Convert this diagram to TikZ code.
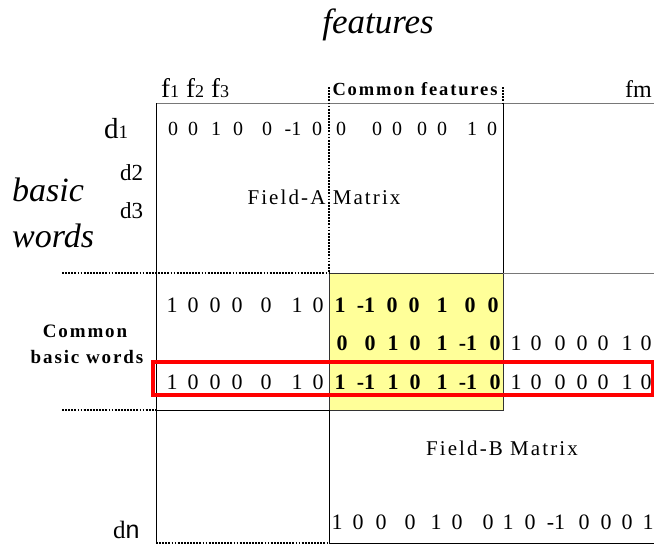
\documentclass[tikz,border=0pt]{standalone}
\usepackage{fontspec}
\setmainfont{Liberation Serif}
\setsansfont{Liberation Sans}
\newfontfamily\trackfont[LetterSpace=10]{Liberation Serif}
\usetikzlibrary{positioning}
\definecolor{cellyellow}{RGB}{255,255,153}
\definecolor{rulegray}{RGB}{120,120,120}
\newcommand{\sz}[1]{\fontsize{#1}{#1}\selectfont}

\begin{document}
\begin{tikzpicture}[x=1pt,y=-1pt,
  num/.style={anchor=base,inner sep=0pt,font=\sz{22}},
  bnum/.style={anchor=base,inner sep=0pt,font=\sz{22}\bfseries},
  lbl/.style={anchor=base,inner sep=0pt},
  dotline/.style={line width=2.4pt,dash pattern=on 1.8pt off 1.3pt},
  redbox/.style={draw=red,line width=3.4pt}]
\useasboundingbox (0,0) rectangle (654,546);

% grid corners
\coordinate (tl) at (156,103);
\coordinate (tr) at (654,103);
\coordinate (ca) at (329,103);
\coordinate (cb) at (503,103);
\coordinate (ml) at (156,410);
\coordinate (bl) at (156,543);
\coordinate (bm) at (329,543);
\coordinate (br) at (654,543);

% common block
\filldraw[fill=cellyellow,draw=black!80,line width=0.8pt] (329,273) rectangle (503,410);

% frame
\draw[rulegray,line width=1pt] (tl) -- (tr);
\draw[line width=1pt] (tl) -- (bl);
\draw[line width=1pt] (cb) -- (503,273);
\draw[rulegray,line width=1pt] (503,273) -- (654,273);
\draw[line width=1pt] (ml) -- (329,410);
\draw[line width=1pt] (329,410) -- (bm) -- (br);

% dotted borders
\draw[dotline] (329,87) -- (329,273);
\draw[dotline] (503,87) -- (cb);
\draw[dotline] (62,273) -- (329,273);
\draw[dotline] (62,410) -- (ml);
\draw[dotline] (bl) -- (bm);

% highlighted row
\draw[redbox] (153,362) rectangle (653,395);

% headings
\node[lbl,font=\sz{35}\itshape] (feat) at (378,33) {features};
\node[lbl,anchor=base west,font=\sz{34}\itshape] (basic) at (12,201) {basic};
\node[lbl,anchor=base west,font=\sz{34}\itshape] (words) at (12,247) {words};

% column labels
\node[lbl,anchor=base west,font=\sz{27}] (f1) at (161,97) {f{\sz{18}1}};
\node[lbl,anchor=base west,font=\sz{27}] (f2) at (186,97) {f{\sz{18}2}};
\node[lbl,anchor=base west,font=\sz{27}] (f3) at (211,97) {f{\sz{18}3}};
\node[lbl,font=\sz{18.5}\trackfont\bfseries] (cfeat) at (415,95) {Common features};
\node[lbl,anchor=base east,font=\sz{24}] (fm) at (652,97) {fm};

% row labels
\node[lbl,anchor=base west,font=\sz{29}] (d1) at (104,138) {d{\sz{19}1}};
\node[lbl,anchor=base west,font=\sz{23}] (d2) at (120,180) {d2};
\node[lbl,anchor=base west,font=\sz{23}] (d3) at (120,218) {d3};
\node[lbl,anchor=base west,font=\sz{25}] (dn) at (113,538) {d{\sffamily n}};
\node[lbl,font=\sz{19}\trackfont\bfseries] (cbw1) at (85,337) {Common};
\node[lbl,font=\sz{19}\trackfont\bfseries] (cbw2) at (87,363) {basic words};

% block titles
\node[lbl,font=\sz{21}\trackfont] (fa) at (324,204) {Field-A Matrix};
\node[lbl,font=\sz{21}\trackfont] (fb) at (502,455) {Field-B Matrix};

% matrix entries
\foreach \x/\v [count=\i] in {173/0,193/0,216/1,238/0,267/0,293/-1,317/0}
  \node[num,font=\sz{20}] (ra\i) at (\x,135) {\v};
\foreach \x/\v [count=\i] in {341/0,377/0,397/0,422/0,442/0,472/1,492/0}
  \node[num,font=\sz{20}] (rb\i) at (\x,135) {\v};
\foreach \y/\n in {312/p,389/r}
  \foreach \x/\v [count=\i] in {172/1,193/0,215/0,237/0,266/0,297/1,318/0}
    \node[num] (\n l\i) at (\x,\y) {\v};
\foreach \x/\v [count=\i] in {340/1,366/-1,392/0,414/0,442/1,470/0,493/0}
  \node[bnum] (pc\i) at (\x,312) {\v};
\foreach \x/\v [count=\i] in {342/0,370/0,393/1,415/0,442/1,468/-1,495/0}
  \node[bnum] (qc\i) at (\x,350) {\v};
\foreach \x/\v [count=\i] in {340/1,366/-1,393/1,415/0,442/1,468/-1,495/0}
  \node[bnum] (rc\i) at (\x,389) {\v};
\foreach \y/\n in {350/q,389/r}
  \foreach \x/\v [count=\i] in {516/1,536/0,560/0,582/0,603/0,627/1,646/0}
    \node[num] (\n r\i) at (\x,\y) {\v};
\foreach \x/\v [count=\i] in {337/1,358/0,381/0,410/0,436/1,457/0,488/0,508/1,530/0,556/-1,584/0,606/0,627/0,648/1}
  \node[num] (bn\i) at (\x,529) {\v};
\end{tikzpicture}
\end{document}
